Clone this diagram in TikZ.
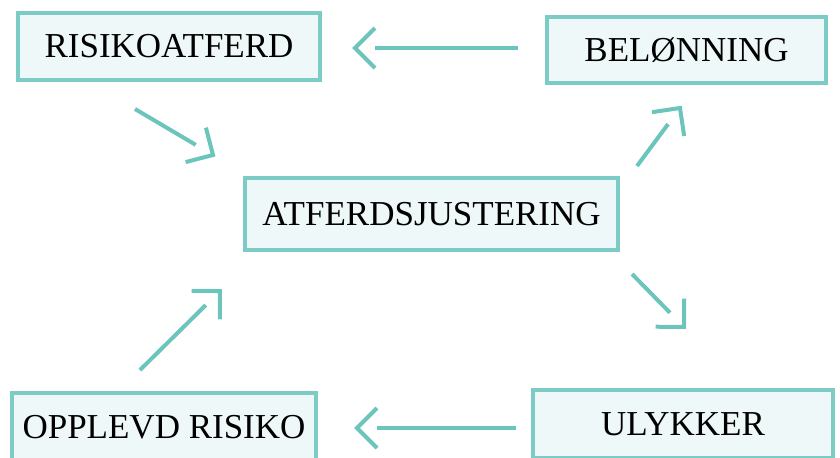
\documentclass[tikz,border=0pt]{standalone}
\usepackage{fontspec}
\setmainfont{Liberation Serif}
\usetikzlibrary{calc,decorations.markings}
\definecolor{tealline}{HTML}{7CCBC4}
\definecolor{tealfill}{HTML}{EFF8F8}
\definecolor{tealarrow}{HTML}{6CC5BC}

\begin{document}
\begin{tikzpicture}[x=0.5pt, y=-0.5pt,
  box/.style={draw=tealline, fill=tealfill, line width=2pt, inner sep=0pt, font=\fontsize{17.5}{20}\selectfont},
  conn/.style={draw=tealarrow, line width=2pt, shorten >=10pt,
    postaction={decorate, decoration={markings, mark=at position 1 with {\draw[tealarrow, line width=2pt, line join=miter, shorten >=0pt] (-10pt,10pt) -- (0pt,0pt) -- (-10pt,-10pt);}}}}]
  \useasboundingbox (0,0) rectangle (840,457);
  \node[box, minimum width=151pt, minimum height=33.5pt] (ris) at (169,46.5) {RISIKOATFERD};
  \node[box, minimum width=139.5pt, minimum height=33pt] (bel) at (686.5,50) {BELØNNING};
  \node[box, minimum width=186.5pt, minimum height=36pt] (atf) at (431.5,214) {ATFERDSJUSTERING};
  \node[box, minimum width=152pt, minimum height=34pt] (opp) at (164,427) {OPPLEVD RISIKO};
  \node[box, minimum width=150pt, minimum height=34pt] (uly) at (683,424) {ULYKKER};
  % the loop
  \draw[conn] ($(bel.west)+(-27,-2)$) -- ($(ris.east)+(33,1.5)$);
  \draw[conn] ($(ris.south)+(-34,27)$) -- ($(atf.north west)+(-30,-21)$);
  \draw[conn] ($(atf.north east)+(17,-10)$) -- ($(bel.south)+(-6.5,23)$);
  \draw[conn] ($(atf.south east)+(12,22)$) -- ($(uly.north)+(1,-61)$);
  \draw[conn] ($(uly.west)+(-15,4)$) -- ($(opp.east)+(39,1)$);
  \draw[conn] ($(opp.north)+(-24,-21)$) -- ($(atf.south west)+(-23,39)$);
\end{tikzpicture}
\end{document}
